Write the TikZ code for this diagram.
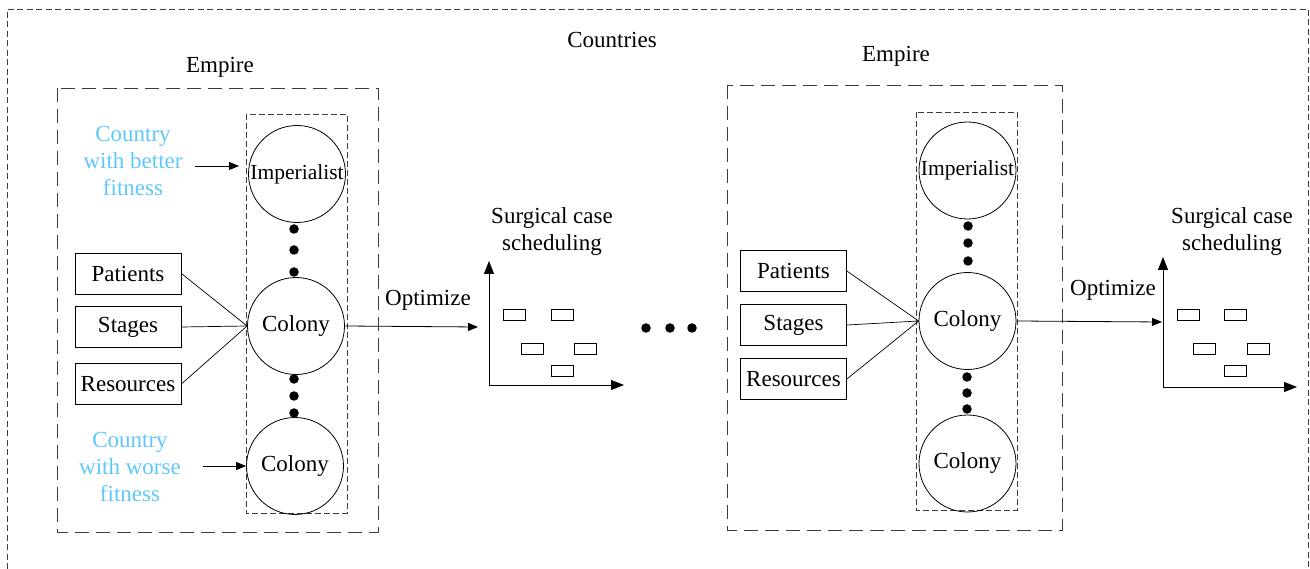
\documentclass[tikz,border=0pt]{standalone}
\usepackage{fontspec}
\setmainfont{Liberation Serif}
\usetikzlibrary{arrows.meta}
\definecolor{skyblue}{RGB}{95,200,250}
\definecolor{dashgray}{RGB}{60,60,60}

\begin{document}
\begin{tikzpicture}[x=1pt,y=-1pt,
  txt/.style={font=\fontsize{23}{27}\selectfont, inner sep=0pt, align=center},
  country/.style={txt, text=skyblue},
  member/.style={txt, circle, draw, line width=0.8pt, minimum size=97pt},
  imperial/.style={member, font=\fontsize{21.5}{27}\selectfont},
  factor/.style={txt, draw, line width=0.8pt, minimum width=106pt, minimum height=41pt},
  slot/.style={draw, line width=0.8pt, inner sep=0pt, minimum width=22pt, minimum height=11pt},
  dot/.style={circle, fill=black, inner sep=0pt, minimum size=9.5pt},
  outerbox/.style={draw=dashgray, line width=0.8pt, dash pattern=on 6pt off 3.5pt},
  empirebox/.style={draw=dashgray, line width=0.9pt, dash pattern=on 14pt off 7pt},
  groupbox/.style={draw=dashgray, line width=0.8pt, dash pattern=on 6pt off 3pt},
  link/.style={line width=0.7pt},
  arr/.style={line width=0.8pt, -{Triangle[length=10pt,width=8pt]}},
  axis/.style={line width=0.9pt, {Triangle[length=13pt,width=10pt]}-{Triangle[length=13pt,width=10pt]}}
]
\useasboundingbox (0,0) rectangle (1310,569);

% outer frame of all countries (open at the bottom)
\draw[outerbox] (7,569) -- (7,9) -- (1308,9) -- (1308,569);
\node[txt] (countries) at (612,40) {Countries};

% ---------------- first empire ----------------
\node[txt] (emp1) at (220,67) {Empire};
\draw[empirebox] (57,88) rectangle (378,532);
\draw[groupbox] (246,114) rectangle (347,513);

\node[imperial] (imp1) at (297,174) {Imperialist};
\node[member] (col1) at (296,326) {Colony};
\node[member] (colw1) at (295,466) {Colony};

\node[dot] (d11) at (294,229) {};
\node[dot] (d12) at (294,250) {};
\node[dot] (d13) at (294,272) {};
\node[dot] (d14) at (294,379) {};
\node[dot] (d15) at (294,396) {};
\node[dot] (d16) at (294,413) {};

\node[country] (better1) at (133,161) {Country\\with better\\fitness};
\node[country] (worse1) at (130,467) {Country\\with worse\\fitness};
\coordinate (b1s) at (195,166);
\coordinate (b1e) at (239,166);
\coordinate (w1s) at (203,466);
\draw[arr] (b1s) -- (b1e);
\draw[arr] (w1s) -- (colw1.west);

\node[factor] (pat1) at (128,273.5) {Patients};
\node[factor] (sta1) at (128,327) {Stages};
\node[factor] (res1) at (128,384) {Resources};
\draw[link] (pat1.east) -- (col1.west);
\draw[link] (sta1.east) -- (col1.west);
\draw[link] (res1.east) -- (col1.west);

% first schedule chart
\coordinate (opt1e) at (478,327);
\draw[arr] (col1.east) -- (opt1e);
\node[txt] (opt1) at (428,300) {Optimize};
\node[txt] (sch1) at (552,232) {Surgical case\\scheduling};
\coordinate (o1) at (489,385);
\coordinate (y1) at (489,261);
\coordinate (x1) at (624,385);
\draw[axis] (y1) -- (o1) -- (x1);
\node[slot] (s11) at (514.5,314.5) {};
\node[slot] (s12) at (562.5,314.5) {};
\node[slot] (s13) at (532,349) {};
\node[slot] (s14) at (585,349) {};
\node[slot] (s15) at (562.5,371) {};

% ellipsis between empires
\node[dot] (e1) at (646,328) {};
\node[dot] (e2) at (670,328) {};
\node[dot] (e3) at (692,328) {};

% ---------------- second empire ----------------
\node[txt] (emp2) at (896,56) {Empire};
\draw[empirebox] (727,85) rectangle (1062,530);
\draw[groupbox] (916,112) rectangle (1017,510);

\node[imperial] (imp2) at (967.5,170.5) {Imperialist};
\node[member] (col2) at (967.5,321) {Colony};
\node[member] (colw2) at (967.5,463.5) {Colony};

\node[dot] (d21) at (968,226) {};
\node[dot] (d22) at (968,243) {};
\node[dot] (d23) at (968,261) {};
\node[dot] (d24) at (967,377) {};
\node[dot] (d25) at (967,393) {};
\node[dot] (d26) at (967,409) {};

\node[factor] (pat2) at (793.5,271) {Patients};
\node[factor] (sta2) at (793.5,325) {Stages};
\node[factor] (res2) at (793.5,379) {Resources};
\draw[link] (pat2.east) -- (col2.west);
\draw[link] (sta2.east) -- (col2.west);
\draw[link] (res2.east) -- (col2.west);

% second schedule chart
\coordinate (opt2e) at (1162,322);
\draw[arr] (col2.east) -- (opt2e);
\node[txt] (opt2) at (1113,290) {Optimize};
\node[txt] (sch2) at (1232,232) {Surgical case\\scheduling};
\coordinate (o2) at (1163,387);
\coordinate (y2) at (1163,257);
\coordinate (x2) at (1297,387);
\draw[axis] (y2) -- (o2) -- (x2);
\node[slot] (s21) at (1188,315) {};
\node[slot] (s22) at (1235.5,315) {};
\node[slot] (s23) at (1204.5,349) {};
\node[slot] (s24) at (1258,349) {};
\node[slot] (s25) at (1235.5,371) {};
\end{tikzpicture}
\end{document}
